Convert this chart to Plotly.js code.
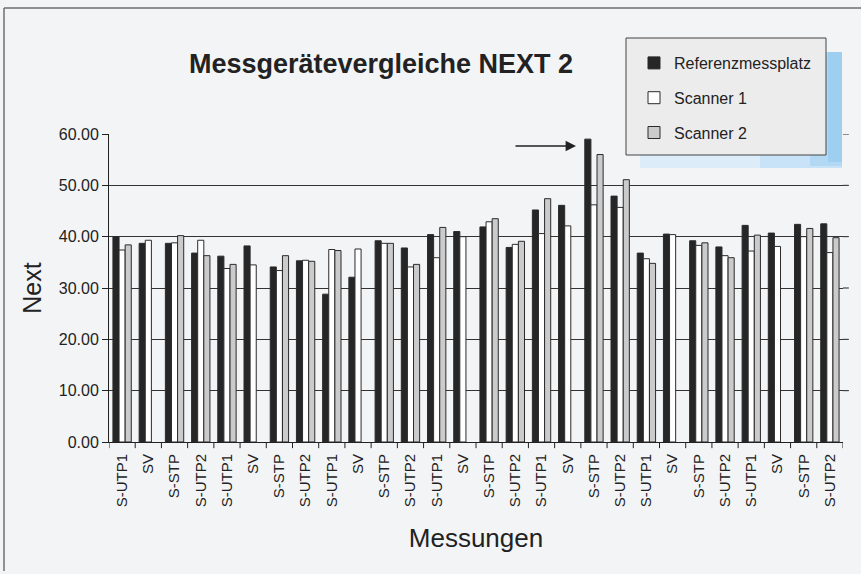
<!DOCTYPE html>
<html><head><meta charset="utf-8">
<script src="https://cdn.plot.ly/plotly-3.0.1.min.js"></script>
<style>html,body{margin:0;padding:0;background:#f3f4f6;}#chart{width:861px;height:574px;}</style>
</head><body><div id="chart"></div>
<script>
const categories = ["S-UTP1","SV","S-STP","S-UTP2","S-UTP1","SV","S-STP","S-UTP2","S-UTP1","SV","S-STP","S-UTP2","S-UTP1","SV","S-STP","S-UTP2","S-UTP1","SV","S-STP","S-UTP2","S-UTP1","SV","S-STP","S-UTP2","S-UTP1","SV","S-STP","S-UTP2"];
const referenz = [40.0,38.7,38.7,36.8,36.2,38.2,34.1,35.3,28.8,32.1,39.2,37.8,40.4,41.0,41.9,37.9,45.2,46.1,59.0,47.9,36.8,40.5,39.2,38.0,42.2,40.7,42.4,42.5];
const scanner1 = [37.4,39.3,38.8,39.3,33.8,34.5,33.4,35.4,37.5,37.6,38.7,34.1,35.9,40.0,42.9,38.5,40.6,42.1,46.2,45.7,35.7,40.4,38.3,36.3,37.2,38.1,40.0,36.9];
const scanner2 = [38.4,null,40.2,36.3,34.6,null,36.3,35.2,37.3,null,38.7,34.6,41.8,null,43.5,39.1,47.4,null,56.0,51.1,34.8,null,38.8,35.9,40.3,null,41.6,39.8];
const seriesNames = ["Referenzmessplatz","Scanner 1","Scanner 2"];
const yTicks = [0,10,20,30,40,50,60];

const xIdx = categories.map((c,i)=>i);
const font = "Liberation Sans, Arial, sans-serif";
const outline = {color:"#2b2b2b", width:1};
const traces = [
  {type:"bar", name:seriesNames[0], x:xIdx, y:referenz, legendgroup:"a",
   marker:{color:"#262626", line:outline}},
  {type:"bar", name:seriesNames[1], x:xIdx, y:scanner1, legendgroup:"b",
   marker:{color:"#ffffff", line:outline}},
  {type:"bar", name:seriesNames[2], x:xIdx, y:scanner2, legendgroup:"c",
   marker:{color:"#d2d2d2", line:outline, pattern:{shape:".", fgcolor:"#a8a8a8", bgcolor:"#d6d6d6", size:2, solidity:0.3}}}
];

const P = (px)=> (px-109)/734;   // helpers for paper x
const Q = (py)=> (442-py)/308;   // helpers for paper y

const layout = {
  width:861, height:574,
  paper_bgcolor:"#f3f4f6", plot_bgcolor:"#f3f4f6",
  margin:{l:109, r:18, t:134, b:132},
  barmode:"group", bargap:0.3, bargroupgap:0,
  showlegend:true,
  font:{family:font, color:"#222"},
  title:{text:"<b>Messgerätevergleiche NEXT 2</b>", font:{family:font, size:27, color:"#222"},
         x:(381)/861, xanchor:"center", y:1-64/574, yanchor:"middle"},
  xaxis:{
    type:"linear", range:[-0.5, 27.5],
    tickmode:"array", tickvals:xIdx, ticktext:categories, tickangle:-90,
    ticks:"", showgrid:false, zeroline:false, ticklabelstandoff:5,
    showline:true, linecolor:"#222", linewidth:1,
    tickfont:{family:font, size:15, color:"#222"},
    title:{text:"Messungen", font:{family:font, size:26, color:"#222"}, standoff:22}
  },
  yaxis:{
    range:[0,60], tickmode:"array", tickvals:yTicks, ticktext:yTicks.map(v=>v.toFixed(2)),
    ticks:"outside", ticklen:6, tickcolor:"#222",
    showgrid:true, gridcolor:"#333", gridwidth:1, zeroline:false,
    showline:true, linecolor:"#222", linewidth:1,
    tickfont:{family:font, size:16, color:"#222"},
    title:{text:"Next", font:{family:font, size:25, color:"#222"}, standoff:10}
  },
  legend:{x:P(634), xanchor:"left", y:Q(46), yanchor:"top", bgcolor:"rgba(0,0,0,0)", borderwidth:0,
    font:{family:font, size:16, color:"#222"}, tracegroupgap:11, itemwidth:30},
  shapes:[
    ...Array.from({length:29},(_,i)=>({type:"line", xref:"x", yref:"paper", x0:i-0.5, x1:i-0.5, y0:0, y1:-0.02, line:{color:"#222", width:1}})),
    ...yTicks.slice(1).map(v=>({type:"line", xref:"paper", yref:"y", x0:1, x1:1.008, y0:v, y1:v, line:{color:"#222", width:1}})),
    {type:"line", xref:"paper", yref:"paper", x0:P(4), x1:P(861), y0:Q(8), y1:Q(8), line:{color:"#6f6f6f", width:1.5}},
    {type:"line", xref:"paper", yref:"paper", x0:P(4), x1:P(4), y0:Q(8), y1:Q(571), line:{color:"#6f6f6f", width:1.5}},
    {type:"rect", xref:"paper", yref:"paper", layer:"below", x0:P(640), x1:P(842), y0:Q(168), y1:Q(52), fillcolor:"#dcedf9", line:{width:0}},
    {type:"rect", xref:"paper", yref:"paper", layer:"below", x0:P(760), x1:P(842), y0:Q(168), y1:Q(52), fillcolor:"#c8e3f7", line:{width:0}},
    {type:"rect", xref:"paper", yref:"paper", layer:"below", x0:P(810), x1:P(842), y0:Q(166), y1:Q(52), fillcolor:"#b3d8f3", line:{width:0}},
    {type:"rect", xref:"paper", yref:"paper", layer:"below", x0:P(828), x1:P(842), y0:Q(162), y1:Q(52), fillcolor:"#9fcff0", line:{width:0}},
    {type:"rect", xref:"paper", yref:"paper", layer:"above", x0:P(626), x1:P(826), y0:Q(155), y1:Q(38), fillcolor:"#ececec", line:{color:"#444", width:1}}
  ],
  annotations:[
    {xref:"paper", yref:"paper", x:P(576), y:Q(146), ax:-62, ay:0, text:"", showarrow:true,
     arrowhead:2, arrowsize:1.6, arrowwidth:1.3, arrowcolor:"#222"}
  ]
};
Plotly.newPlot("chart", traces, layout, {displayModeBar:false, staticPlot:true});
</script></body></html>
